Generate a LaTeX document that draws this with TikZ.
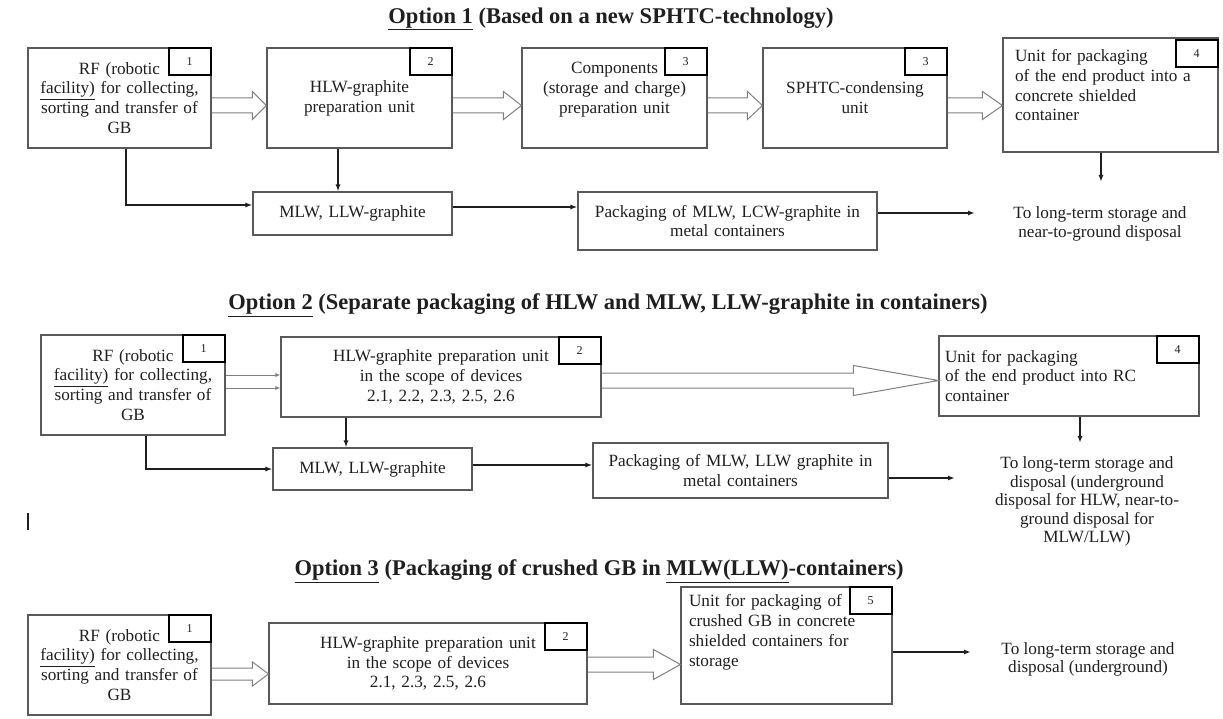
\documentclass[tikz,border=0pt]{standalone}
\usepackage{fontspec}
\setmainfont{Liberation Serif}
\usetikzlibrary{arrows.meta,calc}

\definecolor{boxgray}{gray}{0.35}
\definecolor{inkgray}{gray}{0.12}
\definecolor{fatgray}{gray}{0.5}

\newcommand{\bodyfont}{\fontsize{17.2}{19.8}\selectfont}
% hollow twin-line arrow: from node, to node, yshift, half gap, head length, head half height
\newcommand{\fatarrow}[6]{%
	\coordinate (fa-s) at ([yshift=#3pt]#1.east);
	\coordinate (fa-t) at (fa-s -| #2.west);
	\path[draw,fatline] ($(fa-s)+(0,-#4)$) -- ($(fa-t)+(-#5,-#4)$) -- ($(fa-t)+(-#5,-#6)$) -- (fa-t)
		-- ($(fa-t)+(-#5,#6)$) -- ($(fa-t)+(-#5,#4)$) -- ($(fa-s)+(0,#4)$);}

\tikzset{
	unitbox/.style={draw=boxgray, line width=1.1pt, align=center, inner sep=5pt, text=inkgray, font=\bodyfont},
	leftbox/.style={unitbox, align=left},
	numtag/.style={draw=black, line width=2pt, fill=white, minimum width=42pt, minimum height=27pt, inner sep=0pt, text=inkgray, font=\fontsize{12}{12}\selectfont},
	endnote/.style={align=center, inner sep=0pt, text=inkgray, font=\fontsize{17.2}{18.5}\selectfont},
	heading/.style={inner sep=0pt, text=inkgray, font=\fontsize{22.5}{26}\selectfont\bfseries},
	flowarrow/.style={draw=inkgray, line width=1.5pt, -{Latex[length=7pt,width=5pt]}},
	thinarrow/.style={draw=fatgray, line width=0.9pt, -{Latex[length=5pt,width=4pt]}},
	fatline/.style={draw=fatgray, line width=1pt, line join=miter},
}

\begin{document}
\begin{tikzpicture}[x=1pt,y=-1pt]
	\useasboundingbox (0,0) rectangle (1223,719);

	% Option 1
	\node[heading] (o1) at (611,19) {\underline{Option 1} (Based on a new SPHTC-technology)};
	\node[unitbox, minimum width=183pt, minimum height=100pt, text width=170pt] (r1a) at (119.5,98) {RF (robotic\\\underline{facility)} for collecting,\\sorting and transfer of\\GB};
	\node[unitbox, minimum width=185pt, minimum height=100pt, text width=170pt] (r1b) at (359.5,98) {HLW-graphite\\preparation unit};
	\node[unitbox, minimum width=185pt, minimum height=100pt, text width=170pt] (r1c) at (614.5,98) {Components\\(storage and charge)\\preparation unit\\\mbox{}};
	\node[unitbox, minimum width=184pt, minimum height=100pt, text width=170pt] (r1d) at (855,98) {SPHTC-condensing\\unit};
	\node[leftbox, minimum width=215pt, minimum height=114pt, text width=191pt] (r1e) at (1110.5,95) {Unit for packaging\\of the end product into a\\concrete shielded\\container\\\mbox{}};
	\node[unitbox, minimum width=199pt, minimum height=43pt, text width=185pt] (r1mlw) at (352.5,213.5) {MLW, LLW-graphite};
	\node[unitbox, minimum width=299pt, minimum height=58pt, text width=285pt] (r1pack) at (727.5,221) {Packaging of MLW, LCW-graphite in\\metal containers};
	\node[endnote] (r1end) at (1100,224) {To long-term storage and\\near-to-ground disposal};

	\node[numtag, anchor=north east] (t1a) at (r1a.north east) {1};
	\node[numtag, anchor=north east] (t1b) at (r1b.north east) {2};
	\node[numtag, anchor=north east] (t1c) at (r1c.north east) {3};
	\node[numtag, anchor=north east] (t1d) at (r1d.north east) {3};
	\node[numtag, anchor=north east] (t1e) at ([yshift=-2pt]r1e.north east) {4};

	\fatarrow{r1a}{r1b}{-7.5}{7.5}{14}{14}
	\fatarrow{r1b}{r1c}{-7.5}{7.5}{18}{14}
	\fatarrow{r1c}{r1d}{-7.5}{7.5}{15}{14}
	\fatarrow{r1d}{r1e}{-7.5}{7.5}{20}{14}

	\coordinate (r1out) at (975,213);
	\coordinate (r1down) at (1101,182);
	\path[flowarrow] ([xshift=6.5pt]r1a.south) |- ([yshift=8.5pt]r1mlw.west);
	\path[flowarrow] ([xshift=-21.5pt]r1b.south) -- ([xshift=-21.5pt]r1b.south |- r1mlw.north);
	\path[flowarrow] ([yshift=6.5pt]r1mlw.east) -- ([yshift=6.5pt]r1mlw.east -| r1pack.west);
	\path[flowarrow] (r1pack.east |- r1out) -- (r1out);
	\path[flowarrow] (r1e.south -| r1down) -- (r1down);

	% Option 2
	\node[heading] (o2) at (608,305) {\underline{Option 2} (Separate packaging of HLW and MLW, LLW-graphite in containers)};
	\node[unitbox, minimum width=184pt, minimum height=100pt, text width=170pt] (r2a) at (133,385) {RF (robotic\\\underline{facility)} for collecting,\\sorting and transfer of\\GB};
	\node[unitbox, minimum width=320pt, minimum height=80pt, text width=300pt] (r2b) at (441,377) {HLW-graphite preparation unit\\in the scope of devices\\2.1, 2.2, 2.3, 2.5, 2.6};
	\node[leftbox, minimum width=260pt, minimum height=80pt, text width=248pt] (r2e) at (1069,376) {Unit for packaging\\of the end product into RC\\container};
	\node[unitbox, minimum width=199pt, minimum height=42pt, text width=185pt] (r2mlw) at (372.5,469) {MLW, LLW-graphite};
	\node[unitbox, minimum width=295pt, minimum height=55pt, text width=285pt] (r2pack) at (740.5,470.5) {Packaging of MLW, LLW graphite in\\metal containers};
	\node[endnote] (r2end) at (1087,501.5) {To long-term storage and\\disposal (underground\\disposal for HLW, near-to-\\ground disposal for\\MLW/LLW)};

	\node[numtag, anchor=north east] (t2a) at (r2a.north east) {1};
	\node[numtag, anchor=north east] (t2b) at (r2b.north east) {2};
	\node[numtag, anchor=north east] (t2e) at (r2e.north east) {4};

	\path[thinarrow] ([yshift=10pt]r2a.east) -- ([yshift=10pt]r2a.east -| r2b.west);
	\path[thinarrow] ([yshift=-3pt]r2a.east) -- ([yshift=-3pt]r2a.east -| r2b.west);
	\fatarrow{r2b}{r2e}{-3.5}{7.5}{85}{15}

	\coordinate (r2out) at (955,478);
	\coordinate (r2down) at (1080,443);
	\path[flowarrow] ([xshift=13pt]r2a.south) |- (r2mlw.west);
	\path[flowarrow] ([xshift=-95pt]r2b.south) -- ([xshift=-95pt]r2b.south |- r2mlw.north);
	\path[flowarrow] ([yshift=4pt]r2mlw.east) -- ([yshift=4pt]r2mlw.east -| r2pack.west);
	\path[flowarrow] (r2pack.east |- r2out) -- (r2out);
	\path[flowarrow] (r2e.south -| r2down) -- (r2down);

	\path[draw=inkgray, line width=1.2pt] (28,513) -- (28,530);

	% Option 3
	\node[heading] (o3) at (599,571) {\underline{Option 3} (Packaging of crushed GB in \underline{MLW(LLW)}-containers)};
	\node[unitbox, minimum width=183pt, minimum height=100pt, text width=170pt] (r3a) at (119.5,665) {RF (robotic\\\underline{facility)} for collecting,\\sorting and transfer of\\GB};
	\node[unitbox, minimum width=318pt, minimum height=81pt, text width=300pt] (r3b) at (428,663.5) {HLW-graphite preparation unit\\in the scope of devices\\2.1, 2.3, 2.5, 2.6};
	\node[leftbox, minimum width=211pt, minimum height=117pt, text width=195pt] (r3e) at (786.5,645.5) {Unit for packaging of\\crushed GB in concrete\\shielded containers for\\storage\\[10pt]\mbox{}};
	\node[endnote] (r3end) at (1088,659.5) {To long-term storage and\\disposal (underground)};

	\node[numtag, anchor=north east] (t3a) at (r3a.north east) {1};
	\node[numtag, anchor=north east] (t3b) at (r3b.north east) {2};
	\node[numtag, anchor=north east] (t3e) at (r3e.north east) {5};

	\fatarrow{r3a}{r3b}{-9}{6}{16}{12}
	\fatarrow{r3b}{r3e}{-1}{7.5}{27}{15}

	\coordinate (r3out) at (971,652);
	\path[flowarrow] (r3e.east |- r3out) -- (r3out);
\end{tikzpicture}
\end{document}
